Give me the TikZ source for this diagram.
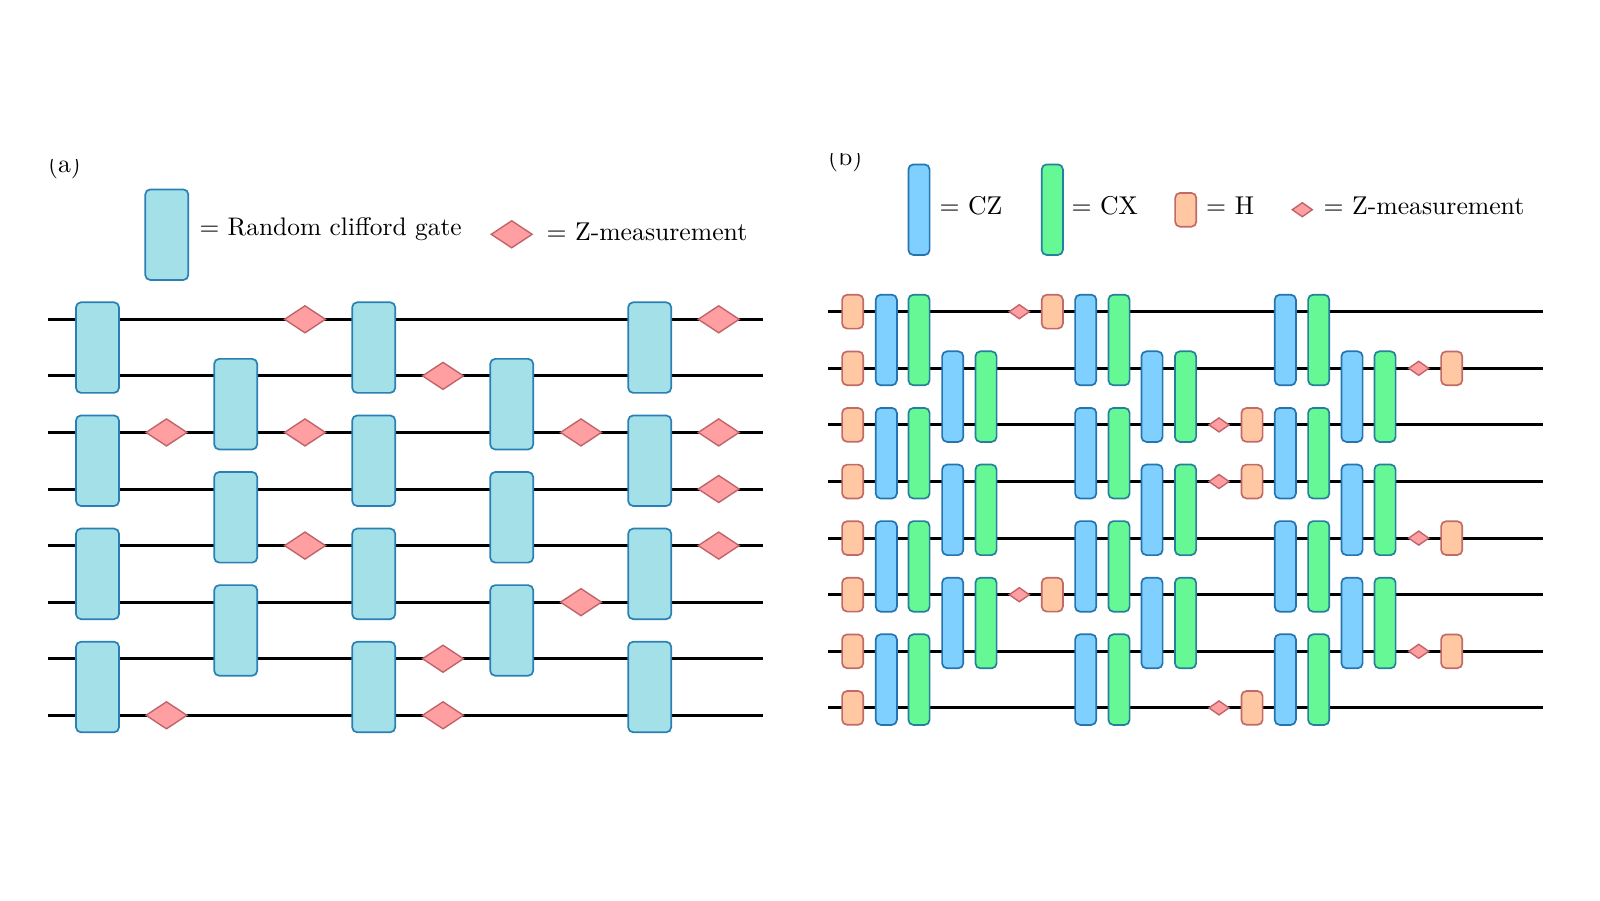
\documentclass[tikz,border=0pt]{standalone}
\usetikzlibrary{shapes.geometric}
\definecolor{cliffill}{HTML}{A4E0E8}
\definecolor{clifline}{HTML}{2A80B4}
\definecolor{czfill}{HTML}{80D0FF}
\definecolor{czline}{HTML}{2474B0}
\definecolor{cxfill}{HTML}{66F894}
\definecolor{cxline}{HTML}{24809C}
\definecolor{hfill}{HTML}{FFC8A2}
\definecolor{hline}{HTML}{C26A68}
\definecolor{mfill}{HTML}{FF9FA2}
\definecolor{mline}{HTML}{C0646A}
\tikzset{
  wire/.style={line width=1.5pt,black},
  gatebase/.style={draw,rectangle,rounded corners=2.5pt,line width=0.85pt,inner sep=0pt},
  clifgate/.style={gatebase,fill=cliffill,draw=clifline,minimum width=21.5pt,minimum height=45.3pt},
  czgate/.style={gatebase,fill=czfill,draw=czline,minimum width=10.6pt,minimum height=45.3pt},
  cxgate/.style={gatebase,fill=cxfill,draw=cxline,minimum width=10.6pt,minimum height=45.3pt},
  hgate/.style={gatebase,fill=hfill,draw=hline,minimum width=10.6pt,minimum height=16.9pt},
  bigmeas/.style={draw=mline,fill=mfill,diamond,line width=0.7pt,inner sep=0pt,minimum width=20.7pt,minimum height=13.8pt},
  smallmeas/.style={draw=mline,fill=mfill,diamond,line width=0.7pt,inner sep=0pt,minimum width=10.3pt,minimum height=7.3pt},
  lab/.style={anchor=base west,inner sep=0pt,scale=1.285,font=\fontsize{10}{12}\selectfont},
  labr/.style={anchor=base west,inner sep=0pt,scale=1.27,font=\fontsize{10}{12}\selectfont}
}
\begin{document}
\begin{tikzpicture}[x=0.5pt,y=-0.5pt]
\useasboundingbox (0,0) rectangle (1600,900);
% panel labels (cut at the top as in the picture)
\begin{scope}
  \clip (40,159) rectangle (100,200);
  \node[lab] (laba) at (47.5,172.5) {(a)};
\end{scope}
\begin{scope}
  \clip (820,153) rectangle (880,200);
  \node[lab] (labb) at (827.5,165) {(b)};
\end{scope}
% wires
\foreach \r in {0,...,7} {
  \coordinate (aL\r) at (48,{319.3+56.57*\r});
  \coordinate (aR\r) at (763.3,{319.3+56.57*\r});
  \draw[wire] (aL\r) -- (aR\r);
  \coordinate (bL\r) at (828.3,{311.7+56.6*\r});
  \coordinate (bR\r) at (1542.7,{311.7+56.6*\r});
  \draw[wire] (bL\r) -- (bR\r);
}
% panel (a) gates
\foreach \x/\rows/\c in {97.5/{0,2,4,6}/1,235.7/{1,3,5}/2,373.7/{0,2,4,6}/3,511.7/{1,3,5}/4,649.7/{0,2,4,6}/5}
  \foreach \r in \rows
    \node[clifgate] (ag\c r\r) at (\x,{319.3+56.57*(\r+0.5)}) {};
% panel (a) measurements
\foreach \x/\rows/\c in {166.5/{2,7}/1,305/{0,2,4}/2,443/{1,6,7}/3,581/{2,5}/4,718.7/{0,2,3,4}/5}
  \foreach \r in \rows
    \node[bigmeas] (am\c r\r) at (\x,{319.3+56.57*\r}) {};
% panel (b) H column at start
\foreach \r in {0,...,7}
  \node[hgate] (bh0r\r) at (852.7,{311.7+56.6*\r}) {};
% panel (b) CZ and CX gates
\foreach \xz/\xx/\rows/\c in {
  886.3/919/{0,2,4,6}/1,952.7/986/{1,3,5}/2,
  1085.7/1119/{0,2,4,6}/3,1152/1185.5/{1,3,5}/4,
  1285.3/1318.7/{0,2,4,6}/5,1352/1385/{1,3,5}/6}
  \foreach \r in \rows {
    \node[czgate] (bz\c r\r) at (\xz,{311.7+56.6*(\r+0.5)}) {};
    \node[cxgate] (bx\c r\r) at (\xx,{311.7+56.6*(\r+0.5)}) {};
  }
% panel (b) measurement + H
\foreach \xm/\xh/\rows/\c in {1019.3/1052.3/{0,5}/1,1219/1252/{2,3,7}/2,1418.7/1451.7/{1,4,6}/3}
  \foreach \r in \rows {
    \node[smallmeas] (bm\c r\r) at (\xm,{311.7+56.6*\r}) {};
    \node[hgate] (bh\c r\r) at (\xh,{311.7+56.6*\r}) {};
  }
% legend (a)
\node[clifgate] (lega) at (166.8,234.7) {};
\node[labr] (legatext) at (199,235.5) {= Random clifford gate};
\node[bigmeas] (legam) at (511.7,234.3) {};
\node[lab] (legamtext) at (546,240.7) {= Z-measurement};
% legend (b)
\node[czgate] (legz) at (919,209.7) {};
\node[lab] (legztext) at (939,214) {= CZ};
\node[cxgate] (legx) at (1052.3,209.7) {};
\node[lab] (legxtext) at (1071,214) {= CX};
\node[hgate] (legh) at (1185.7,209.8) {};
\node[lab] (leghtext) at (1205.7,214.7) {= H};
\node[smallmeas] (legbm) at (1302.3,209.7) {};
\node[lab] (legbmtext) at (1323,214.7) {= Z-measurement};
\end{tikzpicture}
\end{document}
